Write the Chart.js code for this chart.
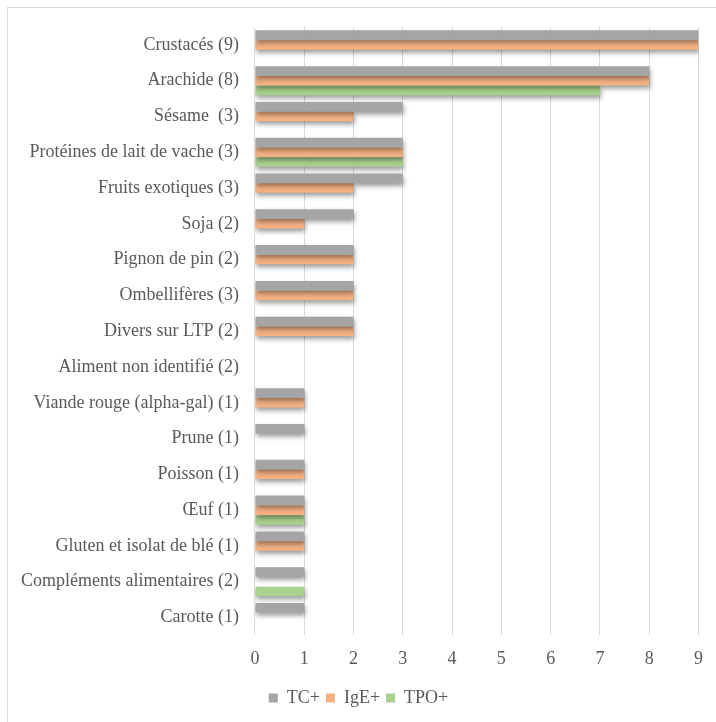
<!DOCTYPE html>
<html>
<head>
<meta charset="utf-8">
<script src="https://cdn.jsdelivr.net/npm/chart.js@4/dist/chart.umd.min.js"></script>
<style>
  html, body { margin: 0; padding: 0; background: #fff; }
  #frame { position: absolute; left: 7px; top: 7px; width: 760px; height: 760px;
           border-left: 1px solid #d9d9d9; border-top: 1px solid #d9d9d9; }
  #wrap { position: absolute; left: 0; top: 0; width: 716px; height: 722px; }
</style>
</head>
<body>
<div id="frame"></div>
<div id="wrap"><canvas id="chart"></canvas></div>
<script>
const labels = [
  "Crustacés (9)",
  "Arachide (8)",
  "Sésame  (3)",
  "Protéines de lait de vache (3)",
  "Fruits exotiques (3)",
  "Soja (2)",
  "Pignon de pin (2)",
  "Ombellifères (3)",
  "Divers sur LTP (2)",
  "Aliment non identifié (2)",
  "Viande rouge (alpha-gal) (1)",
  "Prune (1)",
  "Poisson (1)",
  "Œuf (1)",
  "Gluten et isolat de blé (1)",
  "Compléments alimentaires (2)",
  "Carotte (1)"
];
const tcPlus  = [9, 8, 3, 3, 3, 2, 2, 2, 2, 0, 1, 1, 1, 1, 1, 1, 1];
const igePlus = [9, 8, 2, 3, 2, 1, 2, 2, 2, 0, 1, 0, 1, 1, 1, 0, 0];
const tpoPlus = [0, 7, 0, 3, 0, 0, 0, 0, 0, 0, 0, 0, 0, 1, 0, 1, 0];

const textColor = "#595959";
const serif = "'Liberation Serif', 'DejaVu Serif', serif";

// soft drop shadow under the bars, like the office chart
const barShadow = {
  id: "barShadow",
  beforeDatasetsDraw(chart) {
    const ctx = chart.ctx;
    ctx.save();
    ctx.shadowColor = "rgba(0,0,0,0.4)";
    ctx.shadowBlur = 5;
    ctx.shadowOffsetX = 1;
    ctx.shadowOffsetY = 3;
  },
  afterDatasetsDraw(chart) {
    chart.ctx.restore();
  }
};

new Chart(document.getElementById("chart"), {
  type: "bar",
  data: {
    labels: labels,
    datasets: [
      { label: "TC+", data: tcPlus, backgroundColor: "#a5a5a5" },
      { label: "IgE+", data: igePlus, backgroundColor: "#f4b183" },
      { label: "TPO+", data: tpoPlus, backgroundColor: "#a9d18e" }
    ]
  },
  options: {
    indexAxis: "y",
    responsive: true,
    maintainAspectRatio: false,
    animation: false,
    categoryPercentage: 0.82,
    barPercentage: 0.97,
    layout: { padding: { top: 27, right: 4, bottom: 5, left: 5 } },
    scales: {
      x: {
        min: 0,
        max: 9,
        ticks: { stepSize: 1, color: textColor, font: { family: serif, size: 18 }, padding: 13 },
        grid: { color: "#d9d9d9", drawTicks: false },
        border: { display: false }
      },
      y: {
        ticks: { color: textColor, font: { family: serif, size: 18 }, padding: 16, autoSkip: false },
        grid: { display: false, drawTicks: false },
        border: { display: false }
      }
    },
    plugins: {
      legend: {
        position: "bottom",
        labels: {
          color: textColor,
          font: { family: serif, size: 18 },
          boxWidth: 9,
          boxHeight: 9,
          padding: 6
        }
      },
      tooltip: { enabled: false }
    }
  },
  plugins: [barShadow]
});
</script>
</body>
</html>
